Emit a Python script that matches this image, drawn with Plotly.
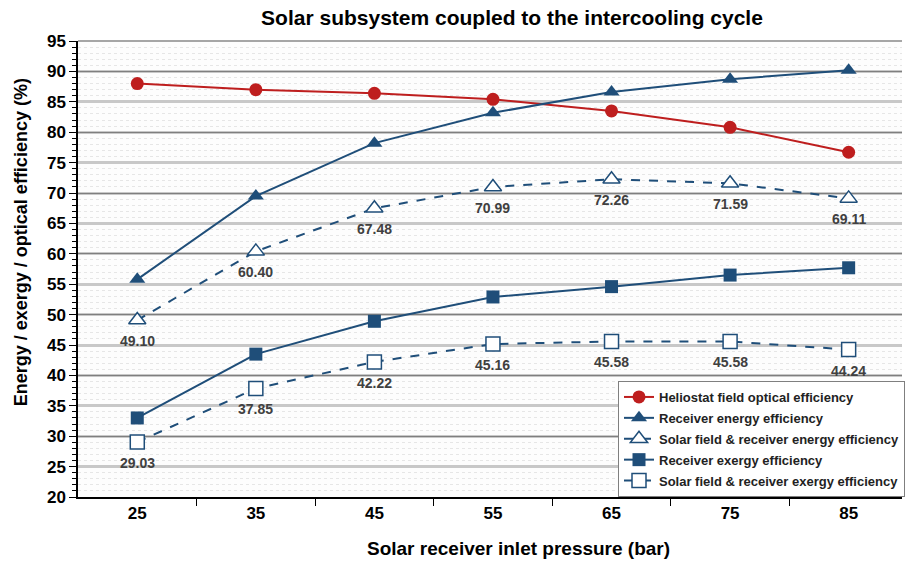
import plotly.graph_objects as go

# Solar receiver inlet pressure (bar)
pressure = [25, 35, 45, 55, 65, 75, 85]

heliostat_optical = [88.0, 87.0, 86.4, 85.4, 83.5, 80.8, 76.7]
receiver_energy = [55.8, 69.5, 78.2, 83.2, 86.6, 88.7, 90.2]
field_receiver_energy = [49.10, 60.40, 67.48, 70.99, 72.26, 71.59, 69.11]
receiver_exergy = [33.0, 43.5, 48.9, 52.9, 54.6, 56.5, 57.7]
field_receiver_exergy = [29.03, 37.85, 42.22, 45.16, 45.58, 45.58, 44.24]

RED = "#BE1E1E"
BLUE = "#1F4E79"
FONT = "Liberation Sans, Arial, sans-serif"

fig = go.Figure()

fig.add_trace(go.Scatter(
    x=pressure, y=heliostat_optical, mode="lines+markers",
    name="Heliostat field optical efficiency", legendgroup="a",
    line=dict(color=RED, width=2),
    marker=dict(symbol="circle", size=13, color=RED),
))
fig.add_trace(go.Scatter(
    x=pressure, y=receiver_energy, mode="lines+markers",
    name="Receiver energy efficiency", legendgroup="b",
    line=dict(color=BLUE, width=2),
    marker=dict(symbol="triangle-up", size=14, color=BLUE),
))
fig.add_trace(go.Scatter(
    x=pressure, y=field_receiver_energy, mode="lines+markers",
    name="Solar field & receiver energy efficiency", legendgroup="c",
    line=dict(color=BLUE, width=2, dash="dash"),
    marker=dict(symbol="triangle-up", size=15, color="white",
                line=dict(color=BLUE, width=1.5)),
))
fig.add_trace(go.Scatter(
    x=pressure, y=receiver_exergy, mode="lines+markers",
    name="Receiver exergy efficiency", legendgroup="d",
    line=dict(color=BLUE, width=2),
    marker=dict(symbol="square", size=13, color=BLUE),
))
fig.add_trace(go.Scatter(
    x=pressure, y=field_receiver_exergy, mode="lines+markers",
    name="Solar field & receiver exergy efficiency", legendgroup="e",
    line=dict(color=BLUE, width=2, dash="dash"),
    marker=dict(symbol="square", size=14, color="white",
                line=dict(color=BLUE, width=1.5)),
))

# value labels under the combined solar field & receiver points
for series in (field_receiver_energy, field_receiver_exergy):
    for p, v in zip(pressure, series):
        fig.add_annotation(
            x=p, y=v, text=f"{v:.2f}", showarrow=False,
            yshift=-21, xanchor="center", yanchor="middle",
            font=dict(family=FONT, size=14, color="#404040", weight="bold"),
        )

# dark gridlines every 10 % on an overlaid axis
fig.add_trace(go.Scatter(x=[None], y=[None], yaxis="y2", showlegend=False,
                         hoverinfo="skip"))

fig.update_layout(
    width=905, height=562,
    margin=dict(l=78, r=0, t=41, b=65),
    paper_bgcolor="white",
    plot_bgcolor="#FDFDFD",
    font=dict(family=FONT, color="#000000"),
    title=dict(
        text="Solar subsystem coupled to the intercooling cycle",
        x=512 / 905, xanchor="center", xref="container",
        y=1 - 18 / 562, yanchor="middle", yref="container",
        font=dict(family=FONT, size=21, color="#000000", weight="bold"),
    ),
    xaxis=dict(
        range=[20, 89.5],
        tickvals=pressure,
        ticktext=[str(p) for p in pressure],
        ticks="", showgrid=False,
        showline=True, linecolor="#000000", linewidth=1.5,
        tickfont=dict(family=FONT, size=17, color="#000000", weight="bold"),
        minor=dict(tickvals=[30, 40, 50, 60, 70, 80], ticks="outside",
                   ticklen=7, tickcolor="#000000", tickwidth=1, showgrid=False),
        zeroline=False,
    ),
    yaxis=dict(
        range=[20, 95], dtick=5, tick0=20,
        ticks="outside", ticklen=7, tickcolor="#000000",
        showline=True, linecolor="#000000", linewidth=1.5,
        showgrid=True, gridcolor="#C8C8C8", gridwidth=2.5,
        tickfont=dict(family=FONT, size=17, color="#000000", weight="bold"),
        minor=dict(dtick=1, ticks="outside", ticklen=4, tickcolor="#000000",
                   showgrid=True, gridcolor="#E6E6E6", griddash="dot", gridwidth=1),
        zeroline=False,
    ),
    yaxis2=dict(
        range=[20, 95], dtick=10, tick0=20, overlaying="y",
        showgrid=True, gridcolor="#7F7F7F", gridwidth=1,
        showticklabels=False, ticks="", zeroline=False,
    ),
    legend=dict(
        x=(620 - 78) / 827, y=(497 - 381) / 456,
        xanchor="left", yanchor="top",
        bgcolor="white", bordercolor="#7F7F7F", borderwidth=1,
        font=dict(family=FONT, size=13, color="#222222", weight="bold"),
        tracegroupgap=1, itemwidth=30,
    ),
)

# axis titles
fig.add_annotation(
    text="Solar receiver inlet pressure (bar)", showarrow=False,
    xref="paper", yref="paper", x=(520 - 78) / 827, y=-(548 - 497) / 456,
    xanchor="center", yanchor="middle",
    font=dict(family=FONT, size=19, color="#000000", weight="bold"),
)
fig.add_annotation(
    text="Energy / exergy / optical efficiency (%)", showarrow=False,
    textangle=-90, xref="paper", yref="paper",
    x=-(78 - 21) / 827, y=(497 - 242) / 456,
    xanchor="center", yanchor="middle",
    font=dict(family=FONT, size=18, color="#000000", weight="bold"),
)

# top border of the plot area
fig.add_shape(type="line", xref="paper", yref="paper", x0=0, x1=1, y0=1, y1=1,
              line=dict(color="#A6A6A6", width=2))

fig.write_html("out.html")
